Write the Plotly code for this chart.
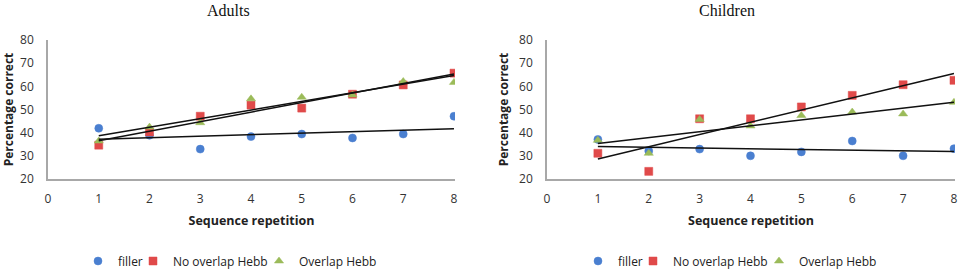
import numpy as np
import plotly.graph_objects as go

reps = [1, 2, 3, 4, 5, 6, 7, 8]
x_ticks = [0, 1, 2, 3, 4, 5, 6, 7, 8]
y_ticks = [20, 30, 40, 50, 60, 70, 80]

adult_filler = [41.9, 38.9, 32.9, 38.3, 39.4, 37.7, 39.4, 47.1]
adult_noov = [34.6, 40.3, 47.1, 51.9, 50.6, 56.6, 60.6, 65.7]
adult_ov = [36.4, 42.4, 44.3, 54.6, 55.3, 56.3, 62.1, 61.7]

child_filler = [37.1, 32.1, 32.9, 30.0, 31.7, 36.4, 30.0, 33.1]
child_noov = [31.1, 23.3, 46.0, 46.0, 51.1, 56.1, 60.7, 62.6]
child_ov = [36.7, 31.1, 45.7, 42.9, 47.4, 48.9, 48.1, 53.1]

names = ["filler", "No overlap Hebb", "Overlap Hebb"]
colors = ["#4a7fd0", "#e04a4a", "#9bbb59"]
symbols = ["circle", "square", "triangle-up"]

fig = go.Figure()

FONT = "Open Sans"

def add_panel(series, xa, ya, legends):
    for vals, name, col, sym, lg in zip(series, names, colors, symbols, legends):
        fig.add_trace(go.Scatter(
            x=reps, y=vals, mode="markers", name=name,
            marker=dict(color=col, symbol=sym, size=8,
                        line=dict(color=col, width=0.5)),
            xaxis=xa, yaxis=ya, legend=lg))
    for vals in series:
        k, b = np.polyfit(reps, vals, 1)
        xs = [reps[0], reps[-1]]
        fig.add_trace(go.Scatter(
            x=xs, y=[k * v + b for v in xs], mode="lines",
            line=dict(color="#111111", width=1.5),
            showlegend=False, hoverinfo="skip",
            xaxis=xa, yaxis=ya))

add_panel([adult_filler, adult_noov, adult_ov], "x", "y",
          ["legend", "legend2", "legend3"])
add_panel([child_filler, child_noov, child_ov], "x2", "y2",
          ["legend4", "legend5", "legend6"])

xcommon = dict(range=[0, 8.02], tickvals=x_ticks, showgrid=False, zeroline=False,
               showline=True, linecolor="#a8a8a8", linewidth=1.5, ticks="",
               automargin=False, ticklabelstandoff=8,
               tickfont=dict(family=FONT, size=12, color="#333333"),
               title=dict(text="<b>Sequence repetition</b>",
                          font=dict(family=FONT, size=12.5, color="#222222"),
                          standoff=10))
ycommon = dict(range=[20, 80], tickvals=y_ticks, showgrid=False, zeroline=False,
               showline=True, linecolor="#a8a8a8", linewidth=1.5, ticks="",
               automargin=False, ticklabelstandoff=10,
               tickfont=dict(family=FONT, size=12, color="#333333"),
               title=dict(text="<b>Percentage correct</b>",
                          font=dict(family=FONT, size=12, color="#222222"),
                          standoff=8))

W, H = 964, 271
L, T = 48, 40
R = W - 955
B = H - 179
PW = W - L - R
PH = H - T - B

def px(xp):
    return (xp - L) / PW

def py(yp):
    return (H - B - yp) / PH

def leg(xpage):
    return dict(orientation="h", x=px(xpage), y=py(261), xanchor="left",
                yanchor="middle", bgcolor="rgba(0,0,0,0)",
                font=dict(family=FONT, size=12, color="#222222"))

fig.update_layout(
    width=W, height=H,
    margin=dict(l=L, r=R, t=T, b=B, autoexpand=False),
    paper_bgcolor="white", plot_bgcolor="white",
    xaxis=dict(domain=[0, px(455)], anchor="y", **xcommon),
    yaxis=dict(domain=[0, 1], anchor="x", **ycommon),
    xaxis2=dict(domain=[px(547), 1], anchor="y2", **xcommon),
    yaxis2=dict(domain=[0, 1], anchor="x2", **ycommon),
    legend=leg(78), legend2=leg(133), legend3=leg(259),
    legend4=leg(578), legend5=leg(633), legend6=leg(759),
    annotations=[
        dict(text="Adults", x=px(228), y=py(11), xref="paper", yref="paper",
             xanchor="center", yanchor="middle", showarrow=False,
             font=dict(family="Liberation Serif", size=16, color="#111111")),
        dict(text="Children", x=px(727), y=py(11), xref="paper", yref="paper",
             xanchor="center", yanchor="middle", showarrow=False,
             font=dict(family="Liberation Serif", size=16, color="#111111")),
    ],
)

fig.write_html("out.html", config={"displayModeBar": False},
               post_script="document.body.style.margin='0';")
